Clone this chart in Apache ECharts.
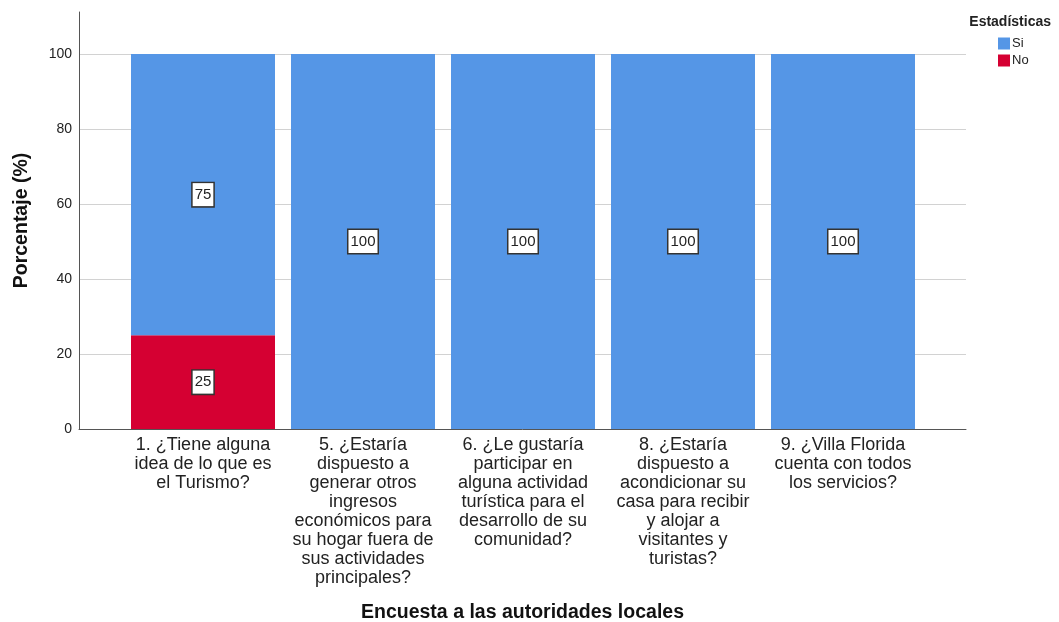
<!DOCTYPE html>
<html>
<head>
<meta charset="utf-8">
<script src="https://cdn.jsdelivr.net/npm/echarts@6/dist/echarts.min.js"></script>
<style>html,body{margin:0;padding:0;background:#fff}#c{width:1059px;height:622px}</style>
</head>
<body>
<div id="c"></div>
<script>
const categories = [
  "1. ¿Tiene alguna\nidea de lo que es\nel Turismo?",
  "5. ¿Estaría\ndispuesto a\ngenerar otros\ningresos\neconómicos para\nsu hogar fuera de\nsus actividades\nprincipales?",
  "6. ¿Le gustaría\nparticipar en\nalguna actividad\nturística para el\ndesarrollo de su\ncomunidad?",
  "8. ¿Estaría\ndispuesto a\nacondicionar su\ncasa para recibir\ny alojar a\nvisitantes y\nturistas?",
  "9. ¿Villa Florida\ncuenta con todos\nlos servicios?"
];
const siValues = [75, 100, 100, 100, 100];
const noValues = [25, 0, 0, 0, 0];
const yTicks = [0, 20, 40, 60, 80, 100];

const font = 'Liberation Sans, Arial, sans-serif';
const chart = echarts.init(document.getElementById('c'), null, {renderer: 'canvas'});
const labelStyle = {
  show: true, position: 'inside', color: '#222', fontFamily: font, fontSize: 15,
  backgroundColor: '#fff', borderColor: '#333', borderWidth: 1.5, padding: [5, 2, 3, 2]
};
const toData = arr => arr.map(v => ({value: v, label: {show: v > 0}}));
const gridBase = {top: 12, bottom: 193, containLabel: false, outerBoundsMode: 'none'};
chart.setOption({
  animation: false,
  title: {
    text: 'Estadísticas', right: 3, top: 10,
    textStyle: {fontFamily: font, fontSize: 14, fontWeight: 'bold', color: '#222'}
  },
  legend: {
    data: ['Si', 'No'], orient: 'vertical', left: 993, top: 32,
    itemWidth: 12, itemHeight: 12, itemGap: 4, icon: 'rect',
    textStyle: {fontFamily: font, fontSize: 13, color: '#222', padding: [0, 0, 0, -3]}
  },
  grid: [
    Object.assign({}, gridBase, {left: 79, right: 93}),
    Object.assign({}, gridBase, {left: 79, right: 93, top: 54}),
    Object.assign({}, gridBase, {left: 123, right: 136, top: 54})
  ],
  xAxis: [
    {gridIndex: 0, type: 'category', data: categories,
     axisLine: {show: true, lineStyle: {color: '#555'}}, axisTick: {show: false}, axisLabel: {show: false},
     name: 'Encuesta a las autoridades locales', nameLocation: 'middle', nameGap: 174,
     nameTextStyle: {fontFamily: font, fontSize: 19.5, fontWeight: 'bold', color: '#111'}},
    {gridIndex: 1, type: 'category', data: categories, show: false},
    {gridIndex: 2, type: 'category', data: categories,
     axisLine: {show: false}, axisTick: {show: false},
     axisLabel: {interval: 0, margin: 7, fontFamily: font, fontSize: 18, lineHeight: 19, color: '#222', align: 'center'}}
  ],
  yAxis: [
    {gridIndex: 0, type: 'value', min: 0, max: 111.2, interval: 20,
     axisLine: {show: true, lineStyle: {color: '#555'}}, axisTick: {show: false}, splitLine: {show: false},
     axisLabel: {showMaxLabel: false, margin: 7, fontFamily: font, fontSize: 14, color: '#222',
       formatter: v => yTicks.includes(v) ? String(v) : ''},
     name: 'Porcentaje (%)', nameLocation: 'middle', nameGap: 47,
     nameTextStyle: {fontFamily: font, fontSize: 19.5, fontWeight: 'bold', color: '#111'}},
    {gridIndex: 1, type: 'value', min: 0, max: 100, interval: 20,
     axisLine: {show: false}, axisTick: {show: false}, axisLabel: {show: false},
     splitLine: {show: true, lineStyle: {color: '#d2d2d2', width: 1}}},
    {gridIndex: 2, type: 'value', min: 0, max: 100, show: false, splitLine: {show: false}}
  ],
  series: [
    {name: 'No', type: 'bar', stack: 'a', xAxisIndex: 2, yAxisIndex: 2, data: toData(noValues),
     barWidth: 144, itemStyle: {color: '#d50032'}, label: labelStyle, z: 3},
    {name: 'Si', type: 'bar', stack: 'a', xAxisIndex: 2, yAxisIndex: 2, data: toData(siValues),
     barWidth: 144, itemStyle: {color: '#5596e6'}, label: labelStyle, z: 3}
  ]
});
</script>
</body>
</html>
